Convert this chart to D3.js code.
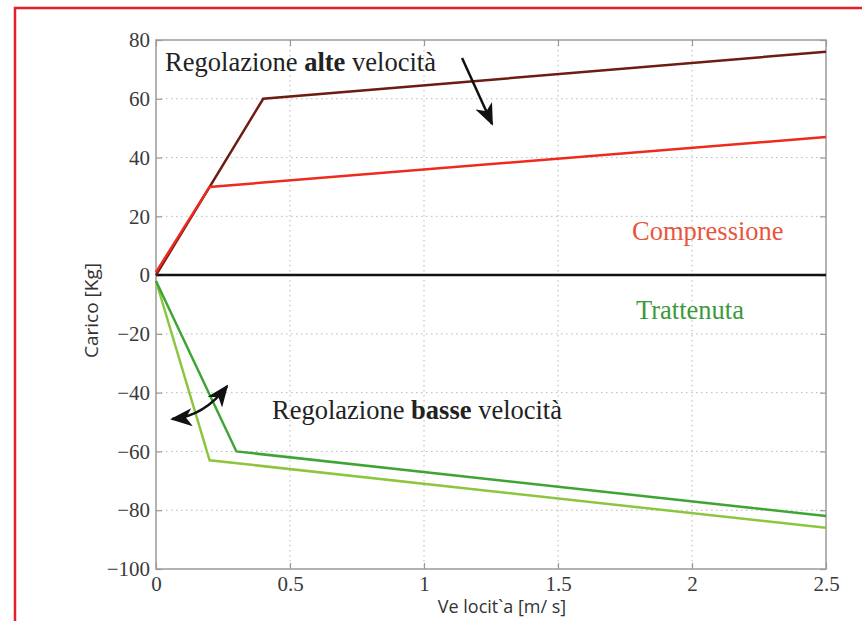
<!DOCTYPE html>
<html>
<head>
<meta charset="utf-8">
<script src="https://cdn.jsdelivr.net/npm/d3@7"></script>
<style>
  html, body { margin: 0; padding: 0; background: #fff; }
  svg { display: block; }
</style>
</head>
<body>
<svg id="chart" width="862" height="621"></svg>
<script>
// ── data ──────────────────────────────────────────────────────────────────
const xTicks = [0, 0.5, 1, 1.5, 2, 2.5];
const xTickLabels = ['0', '0.5', '1', '1.5', '2', '2.5'];
const yTicks = [-100, -80, -60, -40, -20, 0, 20, 40, 60, 80];
const yTickLabels = ['\u2212100', '\u221280', '\u221260', '\u221240', '\u221220', '0', '20', '40', '60', '80'];

// compression, high-speed adjustment (stiff / soft)
const altaX  = [0, 0.4, 2.5];
const altaY  = [0, 60, 76];
const compX  = [0, 0.2, 2.5];
const compY  = [1, 30, 47];
// rebound, low-speed adjustment (two settings)
const trattX  = [0, 0.3, 2.5];
const trattY  = [-2, -60, -82];
const tratt2X = [0, 0.2, 2.5];
const tratt2Y = [-2, -63, -86];

const zeroX = [0, 2.5];
const zeroY = [0, 0];

// ── layout ────────────────────────────────────────────────────────────────
const svg = d3.select('#chart');
const pL = 156, pR = 826, pT = 40, pB = 569;
const serif = '"Liberation Serif", "Times New Roman", serif';
const sans = '"Open Sans", "Liberation Sans", sans-serif';

const x = d3.scaleLinear().domain([0, 2.5]).range([pL, pR]);
const y = d3.scaleLinear().domain([-100, 80]).range([pB, pT]);

// red frame of the page
svg.append('rect')
  .attr('x', 15).attr('y', 8)
  .attr('width', 900).attr('height', 700)
  .attr('fill', 'none')
  .attr('stroke', '#e3202a')
  .attr('stroke-width', 2.5);

// arrow heads
const defs = svg.append('defs');
defs.append('marker')
  .attr('id', 'head')
  .attr('markerUnits', 'userSpaceOnUse')
  .attr('viewBox', '0 0 22 18')
  .attr('refX', 20).attr('refY', 9)
  .attr('markerWidth', 22).attr('markerHeight', 18)
  .attr('orient', 'auto-start-reverse')
  .append('path')
  .attr('d', 'M0,0 L22,9 L0,18 L6,9 Z')
  .attr('fill', '#111');

// grid
const grid = svg.append('g').attr('stroke', '#b8b8b8').attr('stroke-width', 1).attr('stroke-dasharray', '1.5,3.5');
grid.selectAll('.gx').data(xTicks.slice(1, -1)).join('line')
  .attr('x1', d => x(d)).attr('x2', d => x(d))
  .attr('y1', pT).attr('y2', pB);
grid.selectAll('.gy').data(yTicks.slice(1, -1)).join('line')
  .attr('x1', pL).attr('x2', pR)
  .attr('y1', d => y(d)).attr('y2', d => y(d));

// axes (MATLAB style: box with inward ticks on all sides)
const tickStyle = g => {
  g.attr('font-family', serif).attr('font-size', 21);
  g.select('.domain').remove();
  g.selectAll('.tick line').attr('stroke', '#999').attr('stroke-width', 1.2);
  g.selectAll('.tick text').attr('fill', '#3a3a3a')
    .style('font-family', serif)
    .style('font-size', '21px');
};

svg.append('g').attr('transform', `translate(0,${pB})`)
  .call(d3.axisBottom(x).tickValues(xTicks).tickFormat((d, i) => xTickLabels[i]).tickSizeInner(-6).tickSizeOuter(0).tickPadding(7))
  .call(tickStyle);
svg.append('g').attr('transform', `translate(0,${pT})`)
  .call(d3.axisTop(x).tickValues(xTicks).tickFormat('').tickSizeInner(-6).tickSizeOuter(0))
  .call(tickStyle);
svg.append('g').attr('transform', `translate(${pL},0)`)
  .call(d3.axisLeft(y).tickValues(yTicks).tickFormat((d, i) => yTickLabels[i]).tickSizeInner(-6).tickSizeOuter(0).tickPadding(6))
  .call(tickStyle);
svg.append('g').attr('transform', `translate(${pR},0)`)
  .call(d3.axisRight(y).tickValues(yTicks).tickFormat('').tickSizeInner(-6).tickSizeOuter(0))
  .call(tickStyle);

svg.append('rect')
  .attr('x', pL).attr('y', pT)
  .attr('width', pR - pL).attr('height', pB - pT)
  .attr('fill', 'none').attr('stroke', '#9a9a9a').attr('stroke-width', 1.5);

// curves
const line = d3.line().x(d => x(d[0])).y(d => y(d[1]));
const series = [
  { xs: zeroX,   ys: zeroY,   color: '#111111', w: 2.5 },
  { xs: tratt2X, ys: tratt2Y, color: '#8cc63e', w: 2.5 },
  { xs: trattX,  ys: trattY,  color: '#3ea534', w: 2.5 },
  { xs: altaX,   ys: altaY,   color: '#6e1c12', w: 2.5 },
  { xs: compX,   ys: compY,   color: '#ee2a1e', w: 2.5 },
];
svg.append('g').selectAll('path').data(series).join('path')
  .attr('d', s => line(s.xs.map((v, i) => [v, s.ys[i]])))
  .attr('fill', 'none')
  .attr('stroke', s => s.color)
  .attr('stroke-width', s => s.w)
  .attr('stroke-linejoin', 'miter');

// annotations
const t1 = svg.append('text')
  .attr('x', x(0.034)).attr('y', y(69.4))
  .attr('fill', '#222').style('font-family', serif).style('font-size', '26.5px');
t1.append('tspan').text('Regolazione ');
t1.append('tspan').attr('font-weight', 'bold').text('alte');
t1.append('tspan').text(' velocità');

const t2 = svg.append('text')
  .attr('x', x(0.433)).attr('y', y(-49))
  .attr('fill', '#222').style('font-family', serif).style('font-size', '26.5px');
t2.append('tspan').text('Regolazione ');
t2.append('tspan').attr('font-weight', 'bold').text('basse');
t2.append('tspan').text(' velocità');

svg.append('text')
  .attr('x', x(1.776)).attr('y', y(11.9))
  .attr('fill', '#e8553a').style('font-family', serif).style('font-size', '26.5px')
  .text('Compressione');
svg.append('text')
  .attr('x', x(1.791)).attr('y', y(-15))
  .attr('fill', '#3c9a3c').style('font-family', serif).style('font-size', '26.5px')
  .text('Trattenuta');

// arrows
svg.append('line')
  .attr('x1', x(1.142)).attr('y1', y(73.9))
  .attr('x2', x(1.254)).attr('y2', y(51.4))
  .attr('stroke', '#111').attr('stroke-width', 2.5)
  .attr('marker-end', 'url(#head)');

svg.append('path')
  .attr('d', `M${x(0.06)},${y(-49)} Q${x(0.18)},${y(-48)} ${x(0.265)},${y(-37.8)}`)
  .attr('fill', 'none')
  .attr('stroke', '#111').attr('stroke-width', 2.5)
  .attr('marker-start', 'url(#head)')
  .attr('marker-end', 'url(#head)');

// axis titles
svg.append('text')
  .attr('transform', `translate(98,${(pT + pB) / 2 + 6}) rotate(-90)`)
  .attr('text-anchor', 'middle')
  .attr('fill', '#333').style('font-family', sans).style('font-size', '19px')
  .text('Carico [Kg]');
svg.append('text')
  .attr('x', 502).attr('y', 613)
  .attr('text-anchor', 'middle')
  .attr('fill', '#333').style('font-family', sans).style('font-size', '18px')
  .text('Ve locit`a [m/ s]');
</script>
</body>
</html>
